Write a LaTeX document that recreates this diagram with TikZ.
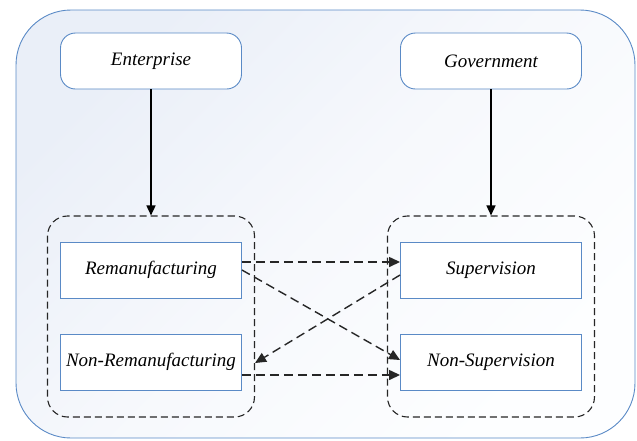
\documentclass[tikz,border=0pt]{standalone}
\usepackage{fontspec}
\setmainfont{Liberation Serif}
\usetikzlibrary{arrows.meta,calc}
\definecolor{frameblue}{HTML}{5A8AC6}
\definecolor{paleblue}{HTML}{EAEFF8}
\definecolor{nearwhite}{HTML}{FDFEFF}
\tikzset{
  actor/.style={draw=frameblue, line width=0.9pt, fill=white, rounded corners=15pt,
    minimum width=181pt, minimum height=56pt, inner sep=0pt,
    font=\fontsize{19}{22}\selectfont\itshape},
  choice/.style={draw=frameblue, line width=0.9pt, fill=white,
    minimum width=181pt, minimum height=56pt, inner sep=0pt,
    font=\fontsize{19}{22}\selectfont\itshape},
  group/.style={draw=black!85, line width=1.1pt, dash pattern=on 7pt off 4pt,
    rounded corners=20pt, minimum width=207pt, minimum height=201pt, inner sep=0pt},
  solidarrow/.style={line width=1.5pt, -{Triangle[length=10pt,width=9pt]}},
  dasharrow/.style={draw=black!85, line width=1.4pt, dash pattern=on 9pt off 5pt,
    -{Triangle[length=11pt,width=10pt]}}
}
\begin{document}
\begin{tikzpicture}[x=1pt,y=-1pt]
\useasboundingbox (0,0) rectangle (637,440);
% shaded outer frame
\path[draw=frameblue, line width=0.9pt, rounded corners=55pt,
  top color=paleblue, bottom color=nearwhite, middle color=white!60!paleblue, shading angle=45]
  (16,10) rectangle (635,438);

% player groups
\node[group] (lgrp) at (151,316.5) {};
\node[group] (rgrp) at (491,316.5) {};

% players
\node[actor] (ent) at (151,61) {Enterprise};
\node[actor] (gov) at (491,61) {Government};

% strategies
\node[choice] (rem) at (151,270) {Remanufacturing};
\node[choice] (nonrem) at (151,362) {Non-Remanufacturing};
\node[choice] (sup) at (491,270) {Supervision};
\node[choice] (nonsup) at (491,362) {Non-Supervision};

% players choose strategies
\draw[solidarrow] (ent.south) -- (lgrp.north);
\draw[solidarrow] (gov.south) -- (rgrp.north);

% strategy interactions
\coordinate (t3) at ($(lgrp.east |- nonrem.east)+(0,1)$);
\draw[dasharrow] ([yshift=8pt]rem.east) -- ([yshift=8pt]sup.west);
\draw[dasharrow] (rem.east) -- ([yshift=2pt]nonsup.west);
\draw[dasharrow] ([yshift=-5pt]sup.west) -- (t3);
\draw[dasharrow] ([yshift=-13pt]nonrem.east) -- ([yshift=-13pt]nonsup.west);
\end{tikzpicture}
\end{document}
